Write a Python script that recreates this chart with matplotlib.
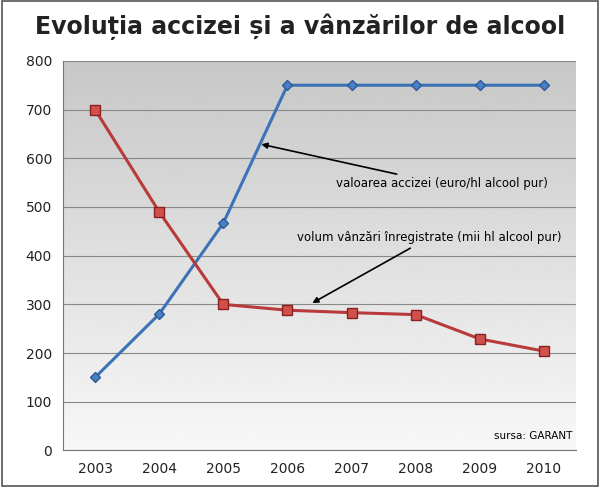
import matplotlib
matplotlib.use("Agg")
import matplotlib.pyplot as plt
import numpy as np

years = ["2003", "2004", "2005", "2006", "2007", "2008", "2009", "2010"]
acciza = [150, 280, 467, 750, 750, 750, 750, 750]
vanzari = [700, 490, 300, 288, 283, 279, 229, 204]
yticks = [0, 100, 200, 300, 400, 500, 600, 700, 800]

fig = plt.figure(figsize=(6.0, 4.87), dpi=100)
fig.patch.set_facecolor("white")
fig.add_artist(plt.Rectangle((0.003, 0.003), 0.994, 0.994, fill=False,
                             edgecolor="#555555", lw=1.2, transform=fig.transFigure))
fig.text(0.5, 0.945, "Evoluția accizei și a vânzărilor de alcool", ha="center", va="center",
         fontsize=17, fontfamily="DejaVu Sans", fontweight="bold", color="#222222")

ax = fig.add_axes([0.105, 0.075, 0.855, 0.80])
x = np.arange(len(years))
# gray gradient background
grad = np.linspace(0.78, 0.97, 256).reshape(-1, 1)
ax.imshow(grad, extent=[-0.5, len(years) - 0.5, 0, 800], aspect="auto", cmap="gray",
          vmin=0, vmax=1, origin="upper", zorder=0)
ax.set_xlim(-0.5, len(years) - 0.5)
ax.set_ylim(0, 800)
ax.set_yticks(yticks)
ax.set_xticks(x)
ax.set_xticklabels(years)
ax.grid(axis="y", color="#888888", lw=0.8)
ax.set_axisbelow(True)
for s in ["top", "right"]:
    ax.spines[s].set_visible(False)
for s in ["left", "bottom"]:
    ax.spines[s].set_color("#777777")
ax.tick_params(labelsize=10, colors="#222222", length=0, pad=8)

ax.plot(x, acciza, color="#3d72b8", lw=2.2, marker="D", markersize=5,
        markerfacecolor="#4a7fc4", markeredgecolor="#2c5a96", zorder=3)
ax.plot(x, vanzari, color="#b83a3a", lw=2.2, marker="s", markersize=7,
        markerfacecolor="#d0504c", markeredgecolor="#8a2020", zorder=3)

ax.annotate("valoarea accizei (euro/hl alcool pur)", xy=(2.55, 630), xytext=(3.75, 540),
            fontsize=8.5, fontfamily="DejaVu Sans",
            arrowprops=dict(arrowstyle="-|>", color="black", lw=1.2))
ax.annotate("volum vânzări înregistrate (mii hl alcool pur)", xy=(3.35, 300), xytext=(3.15, 430),
            fontsize=8.5, fontfamily="DejaVu Sans",
            arrowprops=dict(arrowstyle="-|>", color="black", lw=1.2))
ax.text(7.45, 20, "sursa: GARANT", ha="right", va="bottom", fontsize=7.5,
        fontfamily="DejaVu Sans")

fig.savefig("out.png", dpi=100)
